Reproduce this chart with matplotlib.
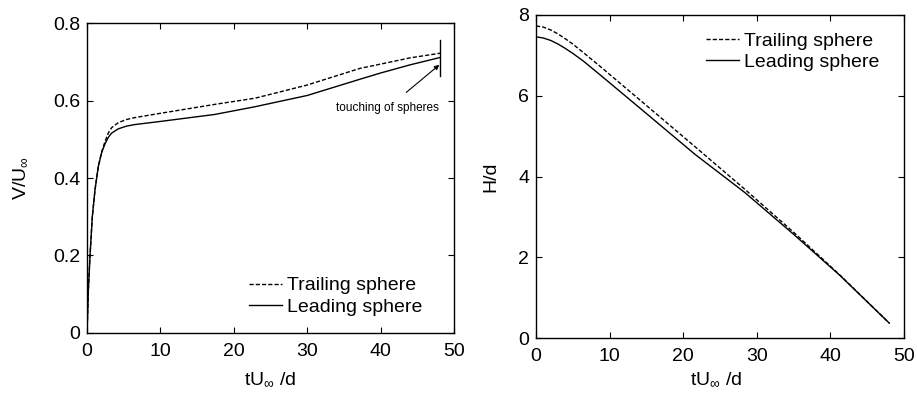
import matplotlib
matplotlib.use("Agg")
import matplotlib.pyplot as plt

plt.rcParams["font.family"] = ["Liberation Sans", "DejaVu Sans"]
plt.rcParams["mathtext.fontset"] = "custom"
plt.rcParams["mathtext.rm"] = "Liberation Sans"
plt.rcParams["mathtext.it"] = "Liberation Sans"

# left panel: sphere velocity V/U_inf vs tU_inf/d
t_v = [0, 0.18, 0.41, 0.72, 1.09, 1.54, 2.0, 2.45, 2.9, 3.36, 4.27, 5.4,
       6.54, 10, 17.4, 22.9, 30, 37.2, 40, 44, 48.1]
v_trailing = [0, 0.11, 0.20, 0.30, 0.37, 0.43, 0.468, 0.494, 0.516, 0.530,
              0.543, 0.551, 0.556, 0.567, 0.590, 0.606, 0.640, 0.683, 0.694,
              0.710, 0.722]
v_leading = [0, 0.11, 0.20, 0.30, 0.37, 0.43, 0.466, 0.488, 0.505, 0.516,
             0.527, 0.534, 0.538, 0.546, 0.564, 0.584, 0.613, 0.655, 0.671,
             0.692, 0.711]

# right panel: gap H/d vs tU_inf/d
t_h = [0, 1, 2, 3, 4, 5, 6.5, 8.7, 15, 21.6, 28.4, 35, 41.3, 48]
h_trailing = [7.73, 7.70, 7.63, 7.53, 7.41, 7.28, 7.06, 6.73, 5.76, 4.74,
              3.68, 2.62, 1.56, 0.37]
h_leading = [7.46, 7.43, 7.37, 7.28, 7.17, 7.05, 6.85, 6.52, 5.56, 4.55,
             3.60, 2.57, 1.55, 0.37]

touch_t = 48.1

fig = plt.figure(figsize=(9.17, 4.01), dpi=100)
ax1 = fig.add_axes([0.0949, 0.1696, 0.4002, 0.7730])
ax2 = fig.add_axes([0.5845, 0.1570, 0.4013, 0.8056])

FS = 14
for ax in (ax1, ax2):
    ax.tick_params(direction="in", top=True, right=True, length=4,
                   width=0.8, labelsize=FS)
    ax.tick_params(axis="x", pad=7)
    ax.tick_params(axis="y", pad=5)
    for s in ax.spines.values():
        s.set_linewidth(1.0)
    ax.set_xlim(0, 50)
    ax.set_xticks([0, 10, 20, 30, 40, 50])

ax1.plot(t_v, v_trailing, color="black", lw=1.0, ls="--", dashes=(3, 1.5),
         label="Trailing sphere")
ax1.plot(t_v, v_leading, color="black", lw=1.0, label="Leading sphere")
ax1.set_ylim(0, 0.8)
ax1.set_yticks([0, 0.2, 0.4, 0.6, 0.8])
ax1.set_yticklabels(["0", "0.2", "0.4", "0.6", "0.8"])
ax1.set_ylabel(r"V/U$_\infty$", fontsize=FS)
ax1.yaxis.set_label_coords(-0.158, 0.5)
ax1.set_xlabel(r"tU$_\infty$ /d", fontsize=FS, va="top")
ax1.xaxis.set_label_coords(0.5, -0.12)

ax1.plot([touch_t, touch_t], [0.663, 0.756], color="black", lw=1.0)
ax1.annotate("touching of spheres", xy=(48.0, 0.692), xytext=(40.9, 0.58),
             ha="center", va="center", fontsize=8.5,
             arrowprops=dict(arrowstyle="-|>", color="black", lw=0.8,
                             mutation_scale=7, shrinkA=8, shrinkB=0))

ax1.legend(loc="lower right", bbox_to_anchor=(0.94, 0.024), frameon=False,
           fontsize=FS, borderpad=0, handlelength=1.7, handletextpad=0.25,
           labelspacing=0.2)

ax2.plot(t_h, h_trailing, color="black", lw=1.0, ls="--", dashes=(3, 1.5),
         label="Trailing sphere")
ax2.plot(t_h, h_leading, color="black", lw=1.0, label="Leading sphere")
ax2.set_ylim(0, 8)
ax2.set_yticks([0, 2, 4, 6, 8])
ax2.set_ylabel("H/d", fontsize=FS)
ax2.yaxis.set_label_coords(-0.10, 0.5)
ax2.set_xlabel(r"tU$_\infty$ /d", fontsize=FS, va="top")
ax2.xaxis.set_label_coords(0.49, -0.10)

ax2.legend(loc="upper right", bbox_to_anchor=(0.96, 0.977), frameon=False,
           fontsize=FS, borderpad=0, handlelength=1.7, handletextpad=0.25,
           labelspacing=0.2)

fig.savefig("out.png", dpi=100)
